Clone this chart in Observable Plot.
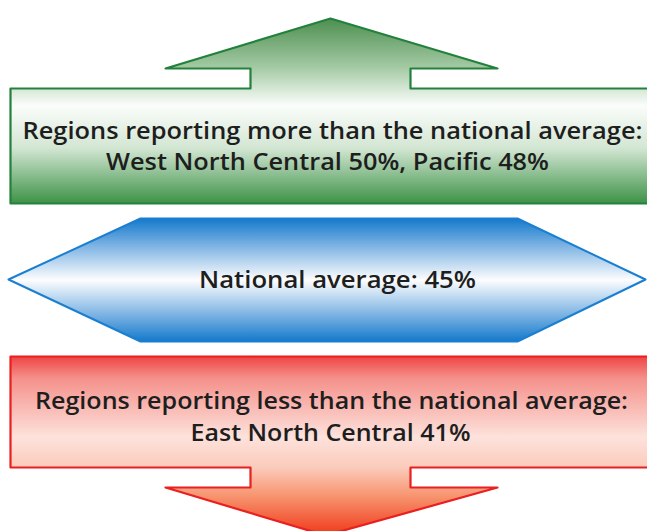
<!DOCTYPE html>
<html>
<head>
<meta charset="utf-8">
<script src="https://cdn.jsdelivr.net/npm/d3@7"></script>
<script src="https://cdn.jsdelivr.net/npm/@observablehq/plot@0.6"></script>
<style>
  html, body { margin: 0; padding: 0; background: #fff; }
</style>
</head>
<body>
<div id="chart"></div>
<script>
// Data
const regionsAbove = ["West North Central", "Pacific"];
const valuesAbove = [50, 48];
const nationalAverage = 45;
const regionsBelow = ["East North Central"];
const valuesBelow = [41];

// Shape outlines (pixel space)
const upArrow = [[330,18],[497,68],[410,68],[410,88],[652,88],[652,203],[10,203],[10,88],[250,88],[250,68],[165,68]];
const hexagon = [[8,279],[140,218],[517,218],[645,279],[517,341],[140,341]];
const downArrow = [[10,356],[652,356],[652,467],[410,467],[410,487],[497,487],[325,535],[165,487],[250,487],[250,467],[10,467]];

const labels = [
  {x: 332, y: 131, w: 620, text: "Regions reporting more than the national average:"},
  {x: 327, y: 162, w: 443, text: regionsAbove.map((r, i) => `${r} ${valuesAbove[i]}%`).join(", ")},
  {x: 337, y: 280, w: 277, text: `National average: ${nationalAverage}%`},
  {x: 331, y: 401, w: 593, text: "Regions reporting less than the national average:"},
  {x: 330, y: 433, w: 280, text: regionsBelow.map((r, i) => `${r} ${valuesBelow[i]}%`).join(", ")}
];

function defs() {
  const d = d3.create("svg:defs");
  const grad = (id, stops) => {
    const g = d.append("linearGradient").attr("id", id).attr("x1", 0).attr("y1", 0).attr("x2", 0).attr("y2", 1);
    for (const [o, c] of stops) g.append("stop").attr("offset", o).attr("stop-color", c);
  };
  grad("gGreen", [[0, "#4d8f50"], [0.27, "#a6cba6"], [0.47, "#fbfdfb"], [0.7, "#d3e6d3"], [1, "#3d9247"]]);
  grad("gBlue", [[0, "#1479cb"], [0.18, "#69a8df"], [0.5, "#fdfdfe"], [0.82, "#6aa9df"], [1, "#1479cb"]]);
  grad("gRed", [[0, "#ee4444"], [0.12, "#f5908a"], [0.45, "#fde2dc"], [0.62, "#fbcbbb"], [0.78, "#f7946f"], [1, "#f03818"]]);
  return d.node();
}

const plot = Plot.plot({
  width: 647,
  height: 531,
  margin: 0,
  x: {domain: [0, 647], range: [0, 647], axis: null},
  y: {domain: [0, 531], range: [0, 531], axis: null},
  marks: [
    defs,
    Plot.line(upArrow, {x: d => d[0], y: d => d[1], curve: "linear-closed", fill: "url(#gGreen)", stroke: "#23813d", strokeWidth: 2.2}),
    Plot.line(hexagon, {x: d => d[0], y: d => d[1], curve: "linear-closed", fill: "url(#gBlue)", stroke: "#1a7fd0", strokeWidth: 2}),
    Plot.line(downArrow, {x: d => d[0], y: d => d[1], curve: "linear-closed", fill: "url(#gRed)", stroke: "#ea1f1f", strokeWidth: 2.2}),
    Plot.text(labels, {x: "x", y: "y", text: "text", fontSize: 22.5, fontFamily: "Open Sans", fontWeight: 600, fill: "#1e1e1e", textAnchor: "middle", lineAnchor: "middle"})
  ]
});
// stretch each label to its measured width in the reference
d3.select(plot).selectAll("g[aria-label='text'] text").each(function(_, i) {
  d3.select(this).attr("textLength", labels[i].w).attr("lengthAdjust", "spacingAndGlyphs");
});
document.getElementById("chart").append(plot);
</script>
</body>
</html>
